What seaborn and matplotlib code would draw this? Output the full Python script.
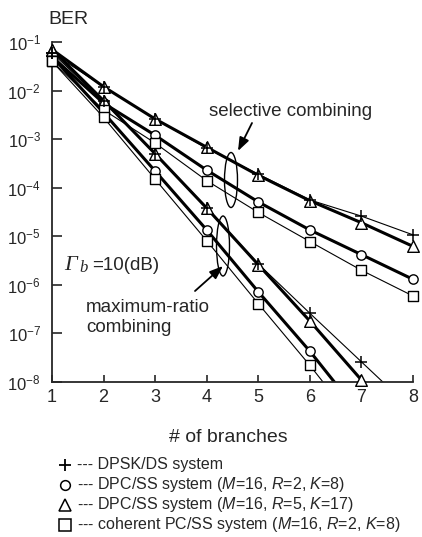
import numpy as np
import pandas as pd
import matplotlib
matplotlib.use("Agg")
import matplotlib.pyplot as plt
import seaborn as sns
from matplotlib.patches import Ellipse
from matplotlib.lines import Line2D

# ---------------- data ----------------
branches = [1, 2, 3, 4, 5, 6, 7, 8]

dpsk_sel = [6.0e-2, 1.2e-2, 2.6e-3, 6.5e-4, 1.9e-4, 5.6e-5, 2.6e-5, 1.07e-5]
dpsk_mrc = [6.0e-2, 6.0e-3, 5.0e-4, 3.9e-5, 2.7e-6, 2.6e-7, 2.6e-8, 2.6e-9]

dpc5_sel = [7.0e-2, 1.2e-2, 2.6e-3, 6.8e-4, 1.8e-4, 5.4e-5, 1.9e-5, 6.2e-6]
dpc5_mrc = [7.0e-2, 6.2e-3, 5.0e-4, 3.8e-5, 2.6e-6, 1.8e-7, 1.1e-8, 7.0e-10]

dpc2_sel = [5.0e-2, 5.5e-3, 1.2e-3, 2.3e-4, 5.1e-5, 1.35e-5, 4.2e-6, 1.3e-6]
dpc2_mrc = [5.0e-2, 3.5e-3, 2.2e-4, 1.35e-5, 7.2e-7, 4.3e-8, 2.0e-9, 1.0e-10]

coh_sel = [4.0e-2, 4.0e-3, 8.3e-4, 1.4e-4, 3.1e-5, 7.8e-6, 2.0e-6, 5.9e-7]
coh_mrc = [4.0e-2, 2.8e-3, 1.5e-4, 8.1e-6, 4.1e-7, 2.2e-8, 1.0e-9, 5.0e-11]

systems = ["DPSK/DS", "DPC/SS R=2", "DPC/SS R=5", "coherent PC/SS"]
legend_labels = [
    "--- DPSK/DS system",
    "--- DPC/SS system ($M$=16, $R$=2, $K$=8)",
    "--- DPC/SS system ($M$=16, $R$=5, $K$=17)",
    "--- coherent PC/SS system ($M$=16, $R$=2, $K$=8)",
]
series = {
    ("DPSK/DS", "sel"): dpsk_sel, ("DPSK/DS", "mrc"): dpsk_mrc,
    ("DPC/SS R=2", "sel"): dpc2_sel, ("DPC/SS R=2", "mrc"): dpc2_mrc,
    ("DPC/SS R=5", "sel"): dpc5_sel, ("DPC/SS R=5", "mrc"): dpc5_mrc,
    ("coherent PC/SS", "sel"): coh_sel, ("coherent PC/SS", "mrc"): coh_mrc,
}

rows = []
for (sysname, comb), vals in series.items():
    for b, v in zip(branches, vals):
        rows.append({"system": sysname, "combining": comb, "branches": b, "ber": v})
df = pd.DataFrame(rows)

# ---------------- style ----------------
sns.set_style("ticks")
plt.rcParams["font.family"] = ["Liberation Sans", "DejaVu Sans"]
plt.rcParams["mathtext.fontset"] = "custom"
plt.rcParams["mathtext.rm"] = "Liberation Sans"
plt.rcParams["mathtext.it"] = "Liberation Sans:italic"
plt.rcParams["mathtext.bf"] = "Liberation Sans:bold"

styles = {
    "DPSK/DS": dict(marker="+", lw=0.8, s=70),
    "DPC/SS R=2": dict(marker="o", lw=2.2, s=45),
    "DPC/SS R=5": dict(marker="^", lw=2.2, s=70),
    "coherent PC/SS": dict(marker="s", lw=0.8, s=50),
}

W, H = 422, 537
fig = plt.figure(figsize=(W / 100, H / 100), dpi=100)
L, R, T, B = 52, 413, 42, 382
ax = fig.add_axes([L / W, 1 - B / H, (R - L) / W, (B - T) / H])
ax.set_yscale("log")
ax.set_xlim(1, 8)
ax.set_ylim(1e-8, 1e-1)

# lines
for (sysname, comb), vals in series.items():
    sub = df[(df.system == sysname) & (df.combining == comb)]
    sns.lineplot(data=sub, x="branches", y="ber", ax=ax, color="black",
                 lw=styles[sysname]["lw"], estimator=None, legend=False,
                 zorder=2)

# markers (only inside the plotted range)
for (sysname, comb), vals in series.items():
    sub = df[(df.system == sysname) & (df.combining == comb) & (df.ber >= 1e-8)]
    st = styles[sysname]
    if st["marker"] == "+":
        sns.scatterplot(data=sub, x="branches", y="ber", ax=ax, marker="+",
                        s=st["s"], color="black", linewidth=1.1, legend=False,
                        zorder=4, clip_on=False)
    else:
        sns.scatterplot(data=sub, x="branches", y="ber", ax=ax, marker=st["marker"],
                        s=st["s"], facecolor="white", edgecolor="black",
                        linewidth=1.0, legend=False, zorder=3, clip_on=False)

# axes styling
sns.despine(ax=ax)
ax.spines["left"].set_linewidth(1.3)
ax.spines["bottom"].set_linewidth(1.3)
ax.set_xticks(branches)
ax.set_xticklabels([str(b) for b in branches])
yt = [10.0 ** e for e in range(-8, 0)]
ax.set_yticks(yt)
ax.set_yticklabels([r"$10^{%d}$" % e for e in range(-8, 0)])
ax.yaxis.set_minor_locator(matplotlib.ticker.NullLocator())
ax.tick_params(axis="y", direction="in", length=7, width=1.2, labelsize=12, pad=8)
ax.tick_params(axis="x", direction="in", length=5, width=1.2, labelsize=13, pad=5)
ax.set_xlabel("")
ax.set_ylabel("")

fig.text(48 / W, 1 - 19 / H, "BER", fontsize=14, ha="left", va="center")
fig.text(228 / W, 1 - 437 / H, "# of branches", fontsize=14, ha="center", va="center")

# annotations
ax.text(209 / W, 1 - 111 / H, "selective combining", fontsize=13.5,
        ha="left", va="center", transform=fig.transFigure)
ax.text(86 / W, 1 - 307 / H, "maximum-ratio", fontsize=13.5,
        ha="left", va="center", transform=fig.transFigure)
ax.text(86 / W, 1 - 328 / H, "combining", fontsize=13.5,
        ha="left", va="center", transform=fig.transFigure)
fig.text(64 / W, 1 - 266 / H, "\u0393", fontsize=16, family="Liberation Serif",
         style="italic", ha="left", va="center")
fig.text(79 / W, 1 - 268 / H, "b", fontsize=12, family="Liberation Serif",
         style="italic", ha="left", va="center")
fig.text(92 / W, 1 - 266 / H, "=10(dB)", fontsize=13.5, ha="left", va="center")


def axfrac(px, py):
    return ((px - L) / (R - L), 1 - (py - T) / (B - T))


for (cx, cy, w, h) in [(231, 180, 13, 55), (223, 246, 13, 60)]:
    fx, fy = axfrac(cx, cy)
    e = Ellipse((fx, fy), w / (R - L), h / (B - T), transform=ax.transAxes,
                fill=False, edgecolor="black", lw=1.0, zorder=5)
    ax.add_patch(e)

for (tx, ty, hx, hy) in [(252, 123, 238, 151), (195, 291, 223, 266)]:
    ax.annotate("", xy=axfrac(hx, hy), xycoords="axes fraction",
                xytext=axfrac(tx, ty), textcoords="axes fraction",
                arrowprops=dict(arrowstyle="-|>,head_length=0.8,head_width=0.3",
                                color="black", lw=1.3, shrinkA=0, shrinkB=0),
                zorder=6)

# legend (manual)
leg_markers = ["+", "o", "^", "s"]
leg_sizes = [9, 7, 8, 8]
for i, (m, ms, lab) in enumerate(zip(leg_markers, leg_sizes, legend_labels)):
    yy = 1 - (465 + 20 * i) / H
    if m == "+":
        ln = Line2D([65 / W], [yy], transform=fig.transFigure, marker=m, ms=ms,
                    color="black", mew=1.3, linestyle="none")
    else:
        ln = Line2D([65 / W], [yy], transform=fig.transFigure, marker=m, ms=ms,
                    mfc="white", mec="black", mew=1.1, linestyle="none")
    fig.add_artist(ln)
    fig.text(77 / W, yy, lab, fontsize=11.5, ha="left", va="center")

fig.savefig("out.png", dpi=100)
